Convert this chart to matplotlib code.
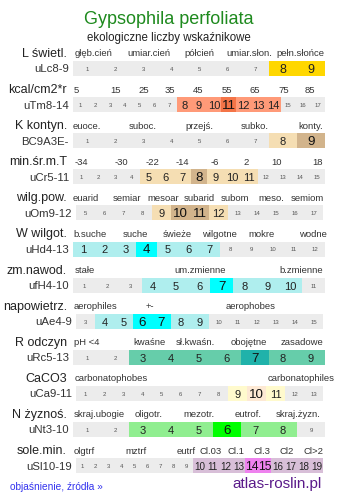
"""Ecological indicator values chart (atlas-roslin style) for Gypsophila perfoliata."""
import matplotlib
matplotlib.use("Agg")
import matplotlib.pyplot as plt

plt.rcParams["font.family"] = ["Liberation Sans", "DejaVu Sans"]

title = "Gypsophila perfoliata"
subtitle = "ekologiczne liczby wskaźnikowe"

# row data
names = ["L świetl.", "kcal/cm2*r", "K kontyn.", "min.śr.m.T", "wilg.pow.", "W wilgot.",
         "zm.nawod.", "napowietrz.", "R odczyn", "CaCO3", "N żyznoś.", "sole.min."]
codes = ["uLc8-9", "uTm8-14", "BC9A3E-", "uCr5-11", "uOm9-12", "uHd4-13",
         "ufH4-10", "uAe4-9", "uRc5-13", "uCa9-11", "uNt3-10", "uSl10-19"]
scale_lo = [1, 1, 1, 1, 5, 1, 1, 3, 1, 1, 1, 1]
scale_hi = [9, 17, 9, 15, 17, 12, 11, 15, 9, 13, 9, 19]
range_lo = [8, 8, 8, 5, 9, 1, 4, 4, 3, 9, 3, 10]
range_hi = [9, 14, 9, 11, 12, 7, 10, 9, 9, 11, 8, 19]
peaks = [[8, 9], [11], [9], [8], [10, 11], [4], [7], [6, 7], [7], [10], [6], [14, 15]]

header_labels = [
    ["głęb.cień", "umiar.cień", "półcień", "umiar.słon.", "pełn.słońce"],
    ["5", "15", "25", "35", "45", "55", "65", "75", "85"],
    ["euoce.", "suboc.", "przejś.", "subko.", "konty."],
    ["-34", "-30", "-22", "-14", "-6", "2", "10", "18"],
    ["euarid", "semiar", "mesoar", "subarid", "subom", "meso.", "semiom"],
    ["b.suche", "suche", "świeże", "wilgotne", "mokre", "wodne"],
    ["stałe", "um.zmienne", "b.zmienne"],
    ["aerophiles", "+-", "aerophobes"],
    ["pH <4", "kwaśne", "sł.kwaśn.", "obojętne", "zasadowe"],
    ["carbonatophobes", "carbonatophiles"],
    ["skraj.ubogie", "oligotr.", "mezotr.", "eutrof.", "skraj.żyzn."],
    ["olgtrf", "mztrf", "eutrf", "Cl.03", "Cl.1", "Cl.3", "Cl2", "Cl>2"],
]

# layout (pixels)
header_x = [
    [75, 127, 184, 226, 276],
    [74, 110, 138, 165, 193, 222, 250, 278, 305],
    [73, 129, 185, 241, 298],
    [75, 115, 146, 176, 211, 243, 271, 312],
    [73, 113, 147, 184, 221, 258, 291],
    [73, 123, 163, 202, 248, 299],
    [75, 174, 279],
    [74, 146, 226],
    [74, 133, 176, 231, 281],
    [75, 268],
    [74, 135, 183, 235, 276],
    [74, 125, 177, 200, 228, 253, 280, 304],
]
bar_x0 = [73, 73, 73, 73, 76, 73, 73, 76, 73, 76, 73, 76]
bar_x1 = [325, 325, 325, 325, 323, 325, 325, 323, 325, 323, 325, 323]

range_col = ["#ffd700", "#ff9a78", "#f5deb3", "#f5deb3", "#f5deb3", "#afeeee",
             "#afeeee", "#afeeee", "#66cdaa", "#fffacd", "#90ee90", "#d8bfd8"]
peak_col = ["#ffd700", "#f47447", "#d2b48c", "#d2b48c", "#d2b48c", "#00ffff",
            "#00ffff", "#00ffff", "#20b2aa", "#fde9d4", "#00ff00", "#ee82ee"]
gray = "#ececec"

fig = plt.figure(figsize=(3.37, 5.02), dpi=100)
ax = fig.add_axes([0, 0, 1, 1])
ax.set_xlim(0, 337)
ax.set_ylim(502, 0)
ax.axis("off")

ax.text(168.5, 19, title, color="#1e8a1e", fontsize=13, ha="center", va="center")
ax.text(168.5, 38.5, subtitle, color="#222222", fontsize=8.3, ha="center", va="center")

row_top0, row_step, bar_h = 62, 36.1, 15
for i, name in enumerate(names):
    top = row_top0 + i * row_step
    x0, x1 = bar_x0[i], bar_x1[i]
    n = scale_hi[i] - scale_lo[i] + 1
    w = (x1 - x0) / n
    vals = list(range(scale_lo[i], scale_hi[i] + 1))
    lefts = [x0 + k * w for k in range(n)]
    cols = []
    for v in vals:
        if v in peaks[i]:
            cols.append(peak_col[i])
        elif range_lo[i] <= v <= range_hi[i]:
            cols.append(range_col[i])
        else:
            cols.append(gray)
    ax.bar(lefts, bar_h, width=w + 0.3, bottom=top, align="edge", color=cols, linewidth=0)

    in_size = min(8.0, 0.55 * w)
    for v, left in zip(vals, lefts):
        cx = left + w / 2
        if v in peaks[i] and len(peaks[i]) < 2 or v in peaks[i] and i != 0:
            ax.text(cx, top + bar_h / 2 + 0.5, str(v), fontsize=in_size + 1.6,
                    color="#111111", ha="center", va="center")
        elif range_lo[i] <= v <= range_hi[i]:
            ax.text(cx, top + bar_h / 2 + 0.5, str(v), fontsize=in_size + (1 if i == 0 else 0),
                    color="#222222", ha="center", va="center")
        else:
            ax.text(cx, top + bar_h / 2, str(v), fontsize=4.3,
                    color="#555555", ha="center", va="center")

    # left labels
    ax.text(67, top - 8, name, fontsize=9, color="#222222", ha="right", va="center")
    ax.text(x0 - 4, top + bar_h / 2, codes[i], fontsize=8.2, color="#333333",
            ha="right", va="center")
    for lab, hx in zip(header_labels[i], header_x[i]):
        ax.text(hx, top - 8, lab, fontsize=6.8, color="#333333", ha="left", va="center")

ax.text(10, 487, "objaśnienie, źródła »", fontsize=7.3, color="#3333ee", ha="left", va="center")
ax.text(322, 484, "atlas-roslin.pl", fontsize=11, color="#5a1a8a", ha="right", va="center")

fig.savefig("out.png", dpi=100)
